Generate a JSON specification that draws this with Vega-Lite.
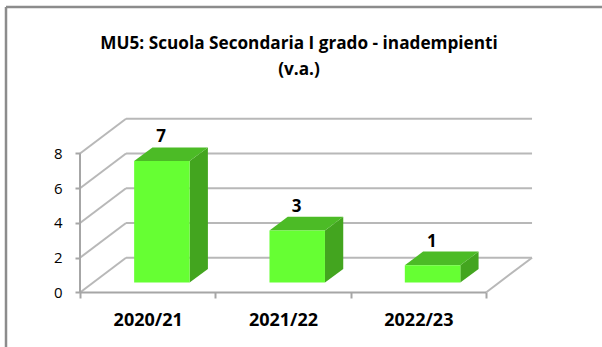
{
"$schema":"https://vega.github.io/schema/vega-lite/v6.json",
"width":596,"height":340,"padding":{"left":6,"top":7,"right":0,"bottom":0},"autosize":"none","background":"white",
"config":{"font":"Open Sans","view":{"stroke":null}},
"title":{"text":["MU5: Scuola Secondaria I grado - inadempienti","(v.a.)"],"font":"Open Sans","fontSize":17.2,"fontWeight":"bold","color":"#000","anchor":"start","align":"center","offset":-76,"lineHeight":26,"dx":298},
"datasets":{
"bars":[{"anno":"2020/21","i":0,"v":7},{"anno":"2021/22","i":1,"v":3},{"anno":"2022/23","i":2,"v":1}],
"grid":[{"g":0},{"g":2},{"g":4},{"g":6},{"g":8}]
},
"layer":[
{"data":{"name":"grid"},
 "transform":[{"calculate":"datum.g+2","as":"yb"}],
 "mark":{"type":"rule","color":"#b8b8b8","strokeWidth":2},
 "encoding":{
  "x":{"datum":0.34,"type":"quantitative","scale":{"domain":[-0.5469,3.857],"range":[0,596],"nice":false,"zero":false},
   "axis":{"values":[0,0.5,1,1.5,2,2.5,3],"labelExpr":"datum.value==0.5?'2020/21':datum.value==1.5?'2021/22':datum.value==2.5?'2022/23':''","labelFont":"Open Sans","labelFontSize":18,"labelFontWeight":"bold","labelColor":"#000","labelPadding":13,"labelOverlap":false,"labelBound":false,"labelFlush":false,"domain":false,"tickColor":"#a6a6a6","tickWidth":2,"tickSize":6,"tickOpacity":{"expr":"datum.value%1==0?1:0"},"grid":false,"title":null,"offset":-55,"orient":"bottom"}},
  "x2":{"datum":3.34},
  "y":{"field":"yb","type":"quantitative","scale":{"domain":[-3.14,16.43],"range":[340,0],"nice":false,"zero":false},
   "axis":{"values":[0,2,4,6,8],"domain":false,"tickColor":"#a6a6a6","tickWidth":2,"tickSize":5,"grid":false,"title":null,"labelFont":"Open Sans","labelFontSize":15,"labelColor":"#000","labelPadding":13,"offset":-74,"orient":"left"}}
 }},
{"data":{"name":"grid"},
 "transform":[{"calculate":"[0,1]","as":"t"},{"flatten":["t"]},{"calculate":"datum.t*0.34","as":"px"},{"calculate":"datum.g+datum.t*2","as":"py"}],
 "mark":{"type":"line","color":"#b8b8b8","strokeWidth":2},
 "encoding":{"x":{"field":"px","type":"quantitative"},"y":{"field":"py","type":"quantitative"},"detail":{"field":"g"}}
},
{"data":{"values":[{"p":0},{"p":1}]},
 "transform":[{"calculate":"3+datum.p*0.34","as":"px"},{"calculate":"datum.p*2","as":"py"}],
 "mark":{"type":"line","color":"#b8b8b8","strokeWidth":2},
 "encoding":{"x":{"field":"px","type":"quantitative"},"y":{"field":"py","type":"quantitative"}}
},
{"data":{"values":[{"x":0,"y":0},{"x":0,"y":8}]},
 "mark":{"type":"line","color":"#a6a6a6","strokeWidth":2},
 "encoding":{"x":{"field":"x","type":"quantitative"},"y":{"field":"y","type":"quantitative"}}
},
{"data":{"values":[{"x":0,"y":0},{"x":3,"y":0}]},
 "mark":{"type":"line","color":"#a6a6a6","strokeWidth":2},
 "encoding":{"x":{"field":"x","type":"quantitative"},"y":{"field":"y","type":"quantitative"}}
},
{"data":{"values":[{"x":-0.5469,"y":-3.14},{"x":-0.5469,"y":16.43}]},
 "mark":{"type":"line","color":"#8c8c8c","strokeWidth":2.5},
 "encoding":{"x":{"field":"x","type":"quantitative"},"y":{"field":"y","type":"quantitative"}}
},
{"data":{"values":[{"x":-0.5469,"y":16.43},{"x":3.857,"y":16.43}]},
 "mark":{"type":"line","color":"#8c8c8c","strokeWidth":2.5},
 "encoding":{"x":{"field":"x","type":"quantitative"},"y":{"field":"y","type":"quantitative"}}
},
{"data":{"name":"bars"},
 "transform":[{"calculate":"[0,1]","as":"t"},{"flatten":["t"]},
  {"calculate":"datum.i+0.81+datum.t*0.135","as":"px"},
  {"calculate":"0.57+datum.t*0.78+datum.v","as":"top"},
  {"calculate":"0.57+datum.t*0.78","as":"bot"}],
 "mark":{"type":"area","color":"#43a51f","opacity":1},
 "encoding":{"x":{"field":"px","type":"quantitative"},"y":{"field":"top","type":"quantitative"},"y2":{"field":"bot"},"detail":{"field":"anno"}}
},
{"data":{"name":"bars"},
 "transform":[{"calculate":"[0,1,2,3]","as":"t"},{"flatten":["t"]},
  {"calculate":"datum.i+0.4+[0,0.135,0.41,0.545][datum.t]","as":"px"},
  {"calculate":"datum.v+0.57+[0,0.78,0.78,0.78][datum.t]","as":"top"},
  {"calculate":"datum.v+0.57+[0,0,0,0.78][datum.t]","as":"bot"}],
 "mark":{"type":"area","color":"#4cbb26","opacity":1},
 "encoding":{"x":{"field":"px","type":"quantitative"},"y":{"field":"top","type":"quantitative"},"y2":{"field":"bot"},"detail":{"field":"anno"}}
},
{"data":{"name":"bars"},
 "transform":[{"calculate":"datum.i+0.4","as":"a"},{"calculate":"datum.i+0.81","as":"b"},{"calculate":"0.57","as":"lo"},{"calculate":"datum.v+0.57","as":"hi"}],
 "mark":{"type":"bar","color":"#66ff33","opacity":1},
 "encoding":{"x":{"field":"a","type":"quantitative"},"x2":{"field":"b"},"y":{"field":"lo","type":"quantitative"},"y2":{"field":"hi"}}
},
{"data":{"name":"bars"},
 "transform":[{"calculate":"datum.i+0.6","as":"lx"},{"calculate":"datum.v+1.35","as":"ly"}],
 "mark":{"type":"text","font":"Open Sans","fontSize":17,"fontWeight":"bold","color":"#000","baseline":"alphabetic","dy":-5},
 "encoding":{"x":{"field":"lx","type":"quantitative"},"y":{"field":"ly","type":"quantitative"},"text":{"field":"v"}}
}
]
}
